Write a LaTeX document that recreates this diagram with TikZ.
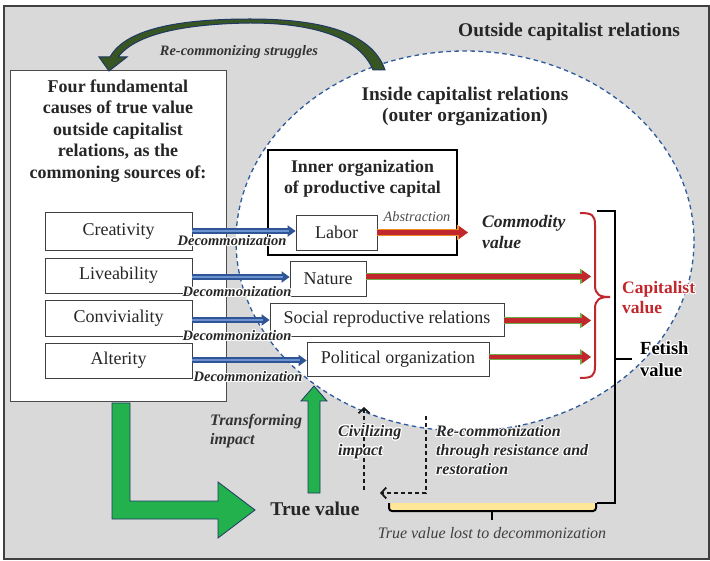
\documentclass[tikz,border=0pt]{standalone}
\usepackage{fontspec}
\setmainfont{Liberation Serif}
\usepackage{contour}
\contourlength{1pt}
\usetikzlibrary{arrows.meta,shapes.geometric}
\definecolor{bggray}{HTML}{D9D9D9}
\definecolor{txt}{HTML}{262626}
\definecolor{ellblue}{HTML}{2E5A9C}
\definecolor{blueout}{HTML}{2F5597}
\definecolor{bluein}{HTML}{6A93D0}
\definecolor{redfill}{HTML}{C1272D}
\definecolor{greenout}{HTML}{70AD47}
\definecolor{orangeout}{HTML}{F08C28}
\definecolor{greenbig}{HTML}{22B14C}
\definecolor{navy}{HTML}{1F3864}
\definecolor{darkgreen}{HTML}{375623}
\definecolor{capred}{HTML}{C0282D}
\definecolor{yellowbar}{HTML}{FFE699}
\newcommand\fsz[2]{\fontsize{#1}{#2}\selectfont}
\tikzset{
  every node/.style={text=txt, inner sep=0pt},
  smallbox/.style={draw=black!75, fill=white, line width=0.8pt, font=\fsz{18}{20}},
  bluearr/.style={line width=6pt, draw=blueout, -{Triangle[length=8pt,width=11pt]},
     postaction={draw=bluein, line width=2pt, -, shorten >=7pt}},
  redgreen/.style={line width=4.5pt, draw=redfill, -{Triangle[length=9pt,width=12pt]},
     preaction={draw=greenout, line width=6.5pt, -{Triangle[length=11pt,width=15pt]}}},
  redorange/.style={line width=4.5pt, draw=redfill, -{Triangle[length=9pt,width=12pt]},
     preaction={draw=orangeout, line width=6.5pt, -{Triangle[length=11pt,width=15pt]}}},
  decomlabel/.style={font=\fsz{14.5}{16}\bfseries\itshape},
  dasharr/.style={draw=black!90, line width=1.8pt, dash pattern=on 4pt off 3pt,
     -{Straight Barb[length=5pt,width=11pt]}},
  bigarrow/.style={fill=greenbig, draw=navy, line width=0.8pt},
}
\begin{document}
\begin{tikzpicture}[x=1pt,y=-1pt]
\useasboundingbox (0,0) rectangle (710,561);
% frame
\draw[fill=bggray, draw=black!75, line width=1.2pt] (4,6) rectangle (709,559);
\node[font=\fsz{19.4}{21}\bfseries] (outside) at (569,32) {Outside capitalist relations};
% ellipse
\node[ellipse, draw=ellblue, fill=white, line width=1.3pt, dash pattern=on 4.5pt off 3.5pt,
      minimum width=458pt, minimum height=380pt] (inside) at (465,241) {};
\node[font=\fsz{19.3}{21}\bfseries, align=center] (insidetitle) at (465,106.5)
  {Inside capitalist relations\\(outer organization)};
% left box
\node[draw=black!70, fill=white, line width=1pt, minimum width=216pt, minimum height=331pt] (causes) at (118,236.5) {};
\node[font=\fsz{18}{21.5}\bfseries, align=center] (causestitle) at (118,131)
  {Four fundamental\\causes of true value\\outside capitalist\\relations, as the\\commoning sources of:};
\node[smallbox, minimum width=147pt, minimum height=38pt] (creativity) at (118.5,231) {Creativity};
\node[smallbox, minimum width=147pt, minimum height=35pt] (liveability) at (118.5,275.5) {Liveability};
\node[smallbox, minimum width=147pt, minimum height=36pt] (conviviality) at (118.5,318) {Conviviality};
\node[smallbox, minimum width=147pt, minimum height=35pt] (alterity) at (118.5,360.5) {Alterity};
% inner organization
\node[draw=black, fill=white, line width=2pt, minimum width=189pt, minimum height=105pt] (innerorg) at (362.5,202.5) {};
\node[font=\fsz{17.8}{21}\bfseries, align=center] (innertitle) at (362.5,178.5)
  {Inner organization\\of productive capital};
\node[smallbox, minimum width=81pt, minimum height=35pt] (labor) at (336.5,232.5) {Labor};
\node[smallbox, minimum width=76pt, minimum height=35pt] (nature) at (328,278.5) {Nature};
\node[smallbox, minimum width=234pt, minimum height=33pt] (social) at (387,319.5) {Social reproductive relations};
\node[smallbox, minimum width=182pt, minimum height=34pt] (political) at (398,359) {Political organization};
% blue decommonization arrows
\draw[bluearr] (creativity.east) -- (creativity.east -| labor.west);
\draw[bluearr] ([yshift=-1.5pt]liveability.east) -- ([yshift=-1.5pt]liveability.east -| nature.west);
\draw[bluearr] ([yshift=-2pt]conviviality.east) -- ([yshift=-2pt]conviviality.east -| social.west);
\draw[bluearr] (alterity.east) -- (alterity.east -| political.west);
\node[decomlabel] (d1) at (232,241) {\contour{white}{Decommonization}};
\node[decomlabel] (d2) at (237,292) {\contour{white}{Decommonization}};
\node[decomlabel] (d3) at (237,336) {\contour{white}{Decommonization}};
\node[decomlabel] (d4) at (248,377) {\contour{white}{Decommonization}};
% abstraction
\coordinate (commodtip) at (468,232.5);
\draw[redorange] (labor.east) -- (commodtip);
\node[font=\fsz{14.3}{16}\itshape, text=black!70] (abstr) at (417,217) {Abstraction};
\node[font=\fsz{17.6}{21}\bfseries\itshape, align=left, anchor=west] (commodity) at (482,231.5) {Commodity\\value};
% red brace
\coordinate (bracetip) at (591,300);
\draw[capred, line width=2pt] (580,213) .. controls (592,213) and (595,215) .. (595,225) -- (595,285)
   .. controls (595,295) and (600,297) .. (610,297)
   .. controls (600,297) and (595,299) .. (595,309) -- (595,366)
   .. controls (595,376) and (592,378) .. (580,378);
\draw[redgreen] ([yshift=2pt]nature.east) -- ([yshift=2pt]nature.east -| bracetip);
\draw[redgreen] ([yshift=-1pt]social.east) -- ([yshift=-1pt]social.east -| bracetip);
\draw[redgreen] ([yshift=2pt]political.east) -- ([yshift=2pt]political.east -| bracetip);
\node[font=\fsz{17.5}{20}\bfseries, text=capred, align=left, anchor=west] (capval) at (622,298)
  {\contour{white}{Capitalist}\\\contour{white}{value}};
% black bracket
\coordinate (fettop) at (597,211);
\coordinate (fetbot) at (597,503);
\draw[black, line width=2pt] (fettop) -- (615,211) -- (615,503) -- (fetbot);
\draw[black, line width=2pt] (615,359) -- (632,359);
\node[font=\fsz{18.5}{22}\bfseries, align=left, anchor=west, text=black] (fetish) at (640,359.5)
  {\contour{white}{Fetish}\\\contour{white}{value}};
% yellow bar
\fill[yellowbar] (389,503) rectangle (596,511);
\draw[black, line width=2pt, rounded corners=3pt] (389,503) -- (389,511) -- (596,511) -- (596,503);
\draw[black, line width=2pt] (492,511) -- (492,520);
\node[font=\fsz{16}{18}\itshape, text=black!75] (lost) at (492,533) {True value lost to decommonization};
% dashed arrows
\coordinate (rc1) at (426,416);
\coordinate (rc2) at (426,493);
\coordinate (rc3) at (380,493);
\draw[dasharr] (rc1) -- (rc2) -- (rc3);
\coordinate (cv1) at (364,490);
\coordinate (cv2) at (364,407);
\draw[dasharr] (cv1) -- (cv2);
\node[font=\fsz{16}{19}\bfseries\itshape, align=left, anchor=west] (civ) at (338,442.5)
  {\contour{white}{Civilizing}\\\contour{white}{impact}};
\node[font=\fsz{16}{19}\bfseries\itshape, align=left, anchor=west] (recom) at (436,451)
  {\contour{white}{Re-commonization}\\\contour{white}{through resistance and}\\\contour{white}{restoration}};
% green arrows
\draw[bigarrow] (112,403) -- (130,403) -- (130,501) -- (218,501) -- (218,482) -- (255,510)
   -- (218,538) -- (218,519) -- (112,519) -- cycle;
\draw[bigarrow] (308,493) -- (308,401) -- (301,401) -- (314,386) -- (327,401) -- (320,401) -- (320,493) -- cycle;
\node[font=\fsz{16}{19}\bfseries\itshape, align=left, anchor=west, text=black!80] (transf) at (210,431.5)
  {Transforming\\impact};
\node[font=\fsz{19.5}{21}\bfseries] (truevalue) at (315,509) {True value};
% re-commonizing struggles curved arrow
\fill[darkgreen, draw=navy, line width=1pt]
  (385,70) .. controls (372,32) and (320,19) .. (250,19) .. controls (175,19) and (125,30) .. (110,57)
  -- (99,57) -- (109,71) -- (127,57) -- (118,57)
  .. controls (135,35) and (180,24) .. (250,23) .. controls (315,23) and (360,38) .. (373,70) -- cycle;
\node[font=\fsz{14.4}{16}\bfseries\itshape, text=black!80] (struggles) at (239,52) {Re-commonizing struggles};
\end{tikzpicture}
\end{document}
